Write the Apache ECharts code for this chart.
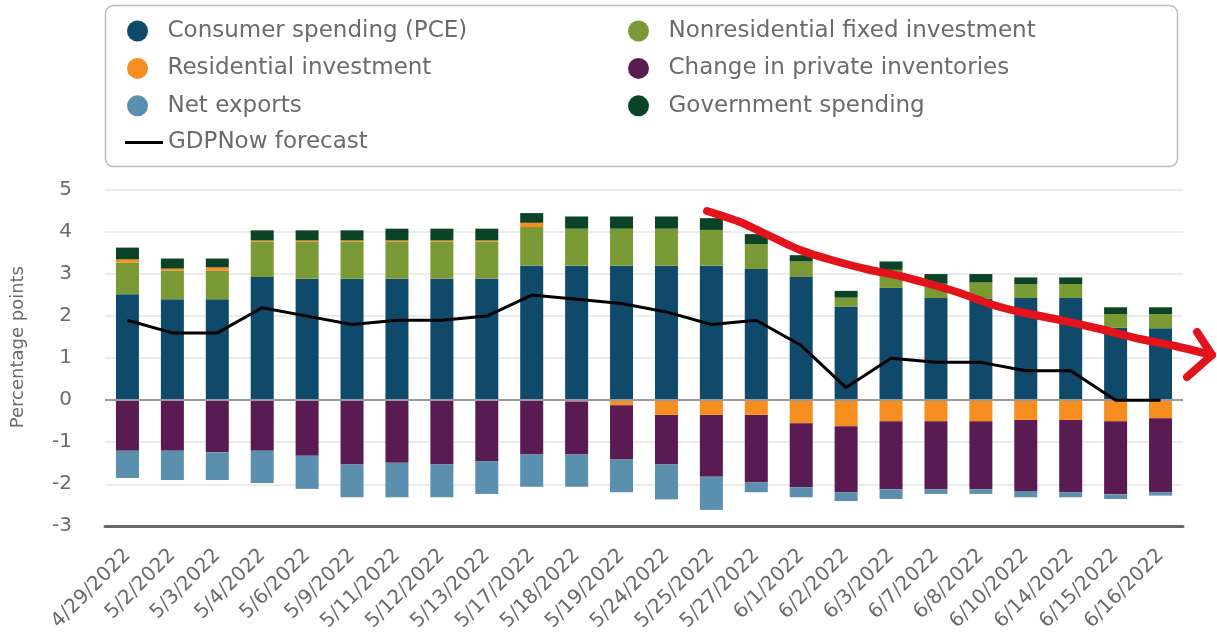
<!DOCTYPE html>
<html>
<head>
<meta charset="utf-8">
<script src="https://cdn.jsdelivr.net/npm/echarts@6/dist/echarts.min.js"></script>
<style>
html,body{margin:0;padding:0;background:#fff;}
#chart{width:1217px;height:634px;}
</style>
</head>
<body>
<div id="chart"></div>
<script>
const categories = ['4/29/2022','5/2/2022','5/3/2022','5/4/2022','5/6/2022','5/9/2022','5/11/2022','5/12/2022','5/13/2022','5/17/2022','5/18/2022','5/19/2022','5/24/2022','5/25/2022','5/27/2022','6/1/2022','6/2/2022','6/3/2022','6/7/2022','6/8/2022','6/10/2022','6/14/2022','6/15/2022','6/16/2022'];
const pce = [2.52,2.40,2.40,2.93,2.89,2.89,2.89,2.89,2.89,3.20,3.20,3.20,3.20,3.20,3.12,2.93,2.22,2.67,2.43,2.42,2.43,2.43,1.72,1.71];
const nonres = [0.75,0.68,0.68,0.84,0.88,0.88,0.88,0.88,0.88,0.92,0.88,0.88,0.88,0.85,0.59,0.37,0.22,0.43,0.34,0.38,0.33,0.33,0.33,0.34];
const residential = [0.08,0.05,0.08,0.03,0.03,0.03,0.03,0.03,0.03,0.10,-0.03,-0.12,-0.35,-0.35,-0.35,-0.55,-0.62,-0.50,-0.50,-0.50,-0.47,-0.47,-0.50,-0.43];
const inventories = [-1.20,-1.20,-1.24,-1.20,-1.32,-1.53,-1.49,-1.53,-1.45,-1.29,-1.26,-1.29,-1.18,-1.47,-1.60,-1.52,-1.57,-1.62,-1.62,-1.62,-1.69,-1.72,-1.74,-1.76];
const netExports = [-0.65,-0.70,-0.66,-0.77,-0.79,-0.78,-0.82,-0.78,-0.78,-0.77,-0.77,-0.78,-0.83,-0.79,-0.24,-0.24,-0.21,-0.23,-0.11,-0.11,-0.15,-0.12,-0.11,-0.08];
const government = [0.28,0.24,0.21,0.24,0.24,0.24,0.28,0.28,0.28,0.23,0.29,0.29,0.29,0.28,0.24,0.15,0.16,0.20,0.23,0.20,0.16,0.16,0.16,0.16];
const gdpNow = [1.9,1.6,1.6,2.2,2.0,1.8,1.9,1.9,2.0,2.5,2.4,2.3,2.1,1.8,1.9,1.3,0.3,1.0,0.9,0.9,0.7,0.7,0.0,0.0];
const yTicks = [-3,-2,-1,0,1,2,3,4,5];

const FONT = 'DejaVu Sans';
const TXT = '#6b6b6b';
const chart = echarts.init(document.getElementById('chart'), null, {renderer:'canvas'});

function barSeries(name, data, color) {
  return {name:name, type:'bar', stack:'gdp', data:data, barWidth:23,
    itemStyle:{color:color}, emphasis:{disabled:true}};
}

const legendText = {color:TXT, fontSize:23, fontFamily:FONT};

const option = {
  animation:false,
  backgroundColor:'#ffffff',
  graphic:[
    {type:'rect', z:0, shape:{x:105.5,y:5.5,width:1072,height:161,r:8},
     style:{fill:'#ffffff', stroke:'#bdbdbd', lineWidth:1.5}},
    {type:'polyline', z:100, shape:{points:[[707,211],[740,222],[770,236],[800,250],[835,261],[870,270],[900,276],[930,284],[960,293],[990,304],[1020,312],[1060,320],[1100,329],[1140,339],[1175,346],[1212,355]], smooth:0.2},
     style:{stroke:'#e3131b', lineWidth:8, lineCap:'round', lineJoin:'round', fill:null}},
    {type:'polyline', z:100, shape:{points:[[1197,332],[1212,355],[1187,377]]},
     style:{stroke:'#e3131b', lineWidth:8, lineCap:'round', lineJoin:'round', fill:null}}
  ],
  legend:[
    {orient:'vertical', left:122, top:14.5, itemWidth:50, itemHeight:21, itemGap:14.4, z:5,
     textStyle:legendText, selectedMode:false,
     data:[{name:'Consumer spending (PCE)',icon:'circle'},{name:'Residential investment',icon:'circle'},{name:'Net exports',icon:'circle'}]},
    {orient:'vertical', left:623, top:14.5, itemWidth:50, itemHeight:21, itemGap:14.4, z:5,
     textStyle:legendText, selectedMode:false,
     data:[{name:'Nonresidential fixed investment',icon:'circle'},{name:'Change in private inventories',icon:'circle'},{name:'Government spending',icon:'circle'}]},
    {orient:'vertical', left:120, top:126, itemWidth:38, itemHeight:3, z:5,
     textStyle:legendText, selectedMode:false,
     data:[{name:'GDPNow forecast', icon:'rect'}]}
  ],
  grid:{left:105, right:34, top:190, bottom:106, containLabel:false},
  xAxis:{
    type:'category', data:categories,
    axisLine:{onZero:false, lineStyle:{color:'#6a6a6a', width:3}},
    axisTick:{show:false},
    axisLabel:{rotate:45, margin:26, color:TXT, fontSize:20, fontFamily:FONT, interval:0}
  },
  yAxis:{
    type:'value', min:yTicks[0], max:yTicks[yTicks.length-1], interval:1,
    name:'Percentage points', nameLocation:'middle', nameGap:78,
    nameTextStyle:{color:TXT, fontSize:18, fontFamily:FONT, padding:[0,0,0,22]},
    axisLine:{show:false}, axisTick:{show:false},
    axisLabel:{margin:33, color:TXT, fontSize:20, fontFamily:FONT},
    splitLine:{lineStyle:{color:'#e4e4e4', width:1.5}}
  },
  series:[
    Object.assign(barSeries('Consumer spending (PCE)', pce, '#0f4a6b'), {
      markLine:{silent:true, symbol:'none', label:{show:false},
        lineStyle:{color:'#9a9a9a', width:2, type:'solid'}, data:[{yAxis:0}]}
    }),
    barSeries('Nonresidential fixed investment', nonres, '#7a9a35'),
    barSeries('Residential investment', residential, '#f68d1f'),
    barSeries('Change in private inventories', inventories, '#5a1a52'),
    barSeries('Net exports', netExports, '#5a8fad'),
    barSeries('Government spending', government, '#0b4326'),
    {name:'GDPNow forecast', type:'line', data:gdpNow, symbol:'none', showSymbol:false, z:10,
     lineStyle:{color:'#000000', width:3}, itemStyle:{color:'#000000'}, emphasis:{disabled:true}}
  ]
};
chart.setOption(option);
</script>
</body>
</html>
